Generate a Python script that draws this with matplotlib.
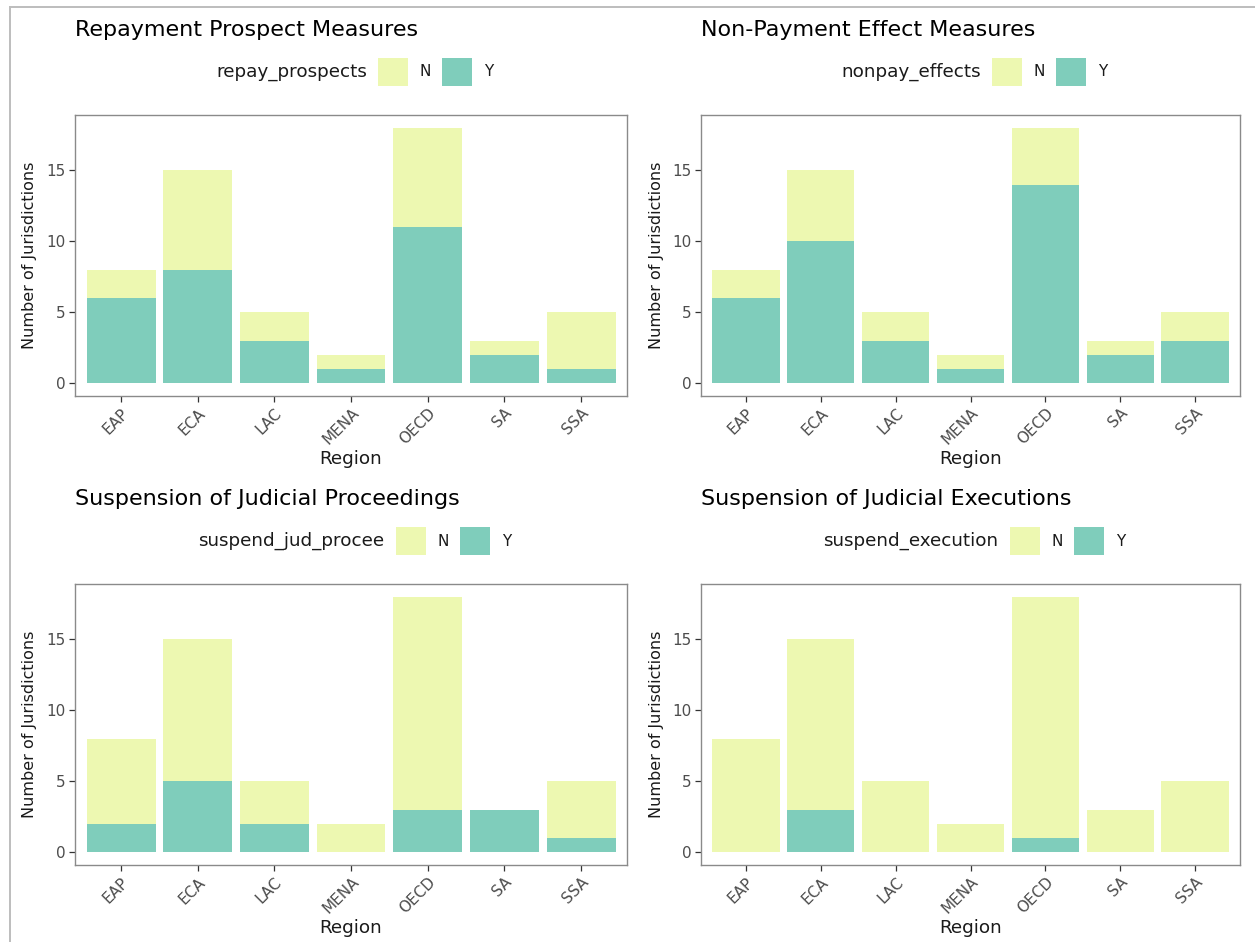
import matplotlib
matplotlib.use("Agg")
import matplotlib.pyplot as plt
from matplotlib.patches import Rectangle
from matplotlib.lines import Line2D
import numpy as np

# ---- data -------------------------------------------------------------
regions = ["EAP", "ECA", "LAC", "MENA", "OECD", "SA", "SSA"]
totals = [8, 15, 5, 2, 18, 3, 5]

repay_yes = [6, 8, 3, 1, 11, 2, 1]
nonpay_yes = [6, 10, 3, 1, 14, 2, 3]
proceed_yes = [2, 5, 2, 0, 3, 3, 1]
execution_yes = [0, 3, 0, 0, 1, 0, 0]

panel_titles = [
    "Repayment Prospect Measures",
    "Non-Payment Effect Measures",
    "Suspension of Judicial Proceedings",
    "Suspension of Judicial Executions",
]
legend_titles = ["repay_prospects", "nonpay_effects",
                 "suspend_jud_procee", "suspend_execution"]
fill_levels = ["N", "Y"]
y_ticks = [0, 5, 10, 15]

# ---- style --------------------------------------------------------------
COL_N = "#EDF8B1"
COL_Y = "#7FCDBB"
TXT = "#1a1a1a"
TICK_TXT = "#4D4D4D"
plt.rcParams["font.family"] = ["DejaVu Sans"]

W, H = 1255, 942
fig = plt.figure(figsize=(W / 100, H / 100), dpi=100)
fig.patch.set_facecolor("white")


def fx(x):
    return x / W


def fy(y):
    return 1 - y / H


# outer frame
fig.add_artist(Line2D([fx(10), fx(1255)], [fy(7), fy(7)], color="#bdbdbd", lw=1.4))
fig.add_artist(Line2D([fx(10), fx(10)], [fy(7), fy(942)], color="#bdbdbd", lw=1.4))

panels = [(75, 115, 627, 396), (701, 115, 1240, 396),
          (75, 584, 627, 865), (701, 584, 1240, 865)]
yes_series = [repay_yes, nonpay_yes, proceed_yes, execution_yes]

renderer = fig.canvas.get_renderer()

for (x0, y0, x1, y1), yes, title, ltitle in zip(panels, yes_series,
                                                 panel_titles, legend_titles):
    ax = fig.add_axes([fx(x0), fy(y1), (x1 - x0) / W, (y1 - y0) / H])
    pos = np.arange(1, len(regions) + 1)
    yes = np.array(yes)
    no = np.array(totals) - yes
    ax.bar(pos, yes, width=0.9, color=COL_Y, linewidth=0)
    ax.bar(pos, no, bottom=yes, width=0.9, color=COL_N, linewidth=0)
    ax.set_xlim(0.4, len(regions) + 0.6)
    ax.set_ylim(-0.9, 18.9)
    ax.set_yticks(y_ticks)
    ax.set_xticks(pos)
    ax.set_xticklabels(regions, rotation=45, ha="right", rotation_mode="anchor",
                       va="top")
    ax.tick_params(length=4.3, width=0.9, color="#333333", labelcolor=TICK_TXT,
                   labelsize=11, pad=2.5)
    for s in ax.spines.values():
        s.set_color("#8a8a8a")
        s.set_linewidth(1.0)

    cx = (x0 + x1) / 2
    cy = (y0 + y1) / 2
    # axis titles
    fig.text(fx(x0 - 45), fy(cy), "Number of Jurisdictions",
             rotation=90, ha="center", va="center", fontsize=11.5, color=TXT)
    fig.text(fx(cx), fy(y1 + 63), "Region", ha="center", va="center",
             fontsize=13.2, color=TXT)
    # panel title
    fig.text(fx(x0), fy(y0 - 79), title, ha="left", va="baseline",
             fontsize=16, color="black")

    # legend: title on the left, keys to its right, centred over the panel
    ly = y0 - 43
    t = fig.text(0, fy(ly), ltitle, ha="left", va="center", fontsize=13.2,
                 color=TXT)
    tw = t.get_window_extent(renderer).width
    keys_w = 125
    lx = cx + 3 - (tw + keys_w) / 2
    t.set_position((fx(lx), fy(ly)))
    kx = lx + tw + 11
    for i, (lev, col) in enumerate(zip(fill_levels, [COL_N, COL_Y])):
        k0 = kx + i * 64
        fig.add_artist(Rectangle((fx(k0), fy(ly + 14)), 30 / W, 28 / H,
                                 facecolor=col, edgecolor="none"))
        fig.text(fx(k0 + 42), fy(ly), lev, ha="left", va="center",
                 fontsize=11, color=TXT)

fig.savefig("out.png", dpi=100, facecolor="white")
